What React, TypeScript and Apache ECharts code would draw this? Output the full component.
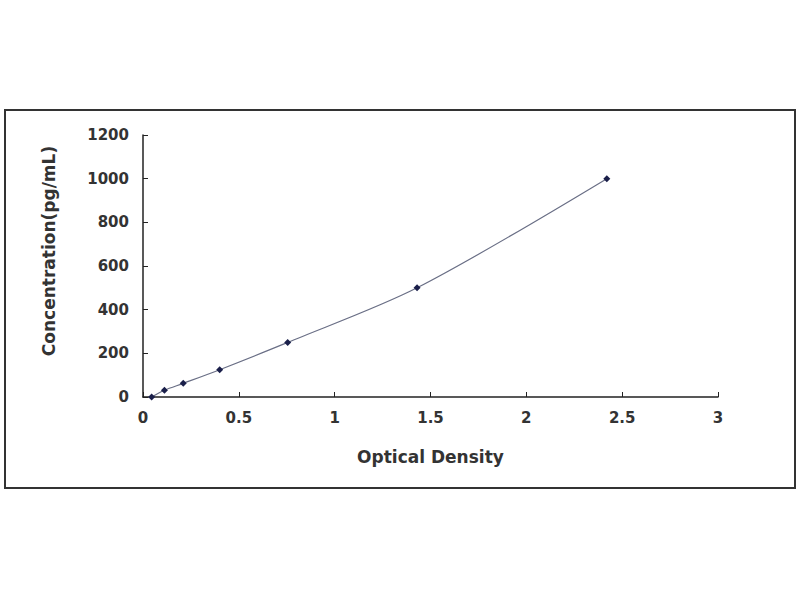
import React, { useEffect, useRef } from "react";
import * as echarts from "echarts";

const odValues = [0.045, 0.112, 0.21, 0.4, 0.755, 1.43, 2.42];
const concValues = [0, 31.25, 62.5, 125, 250, 500, 1000];
const xTitle = "Optical Density";
const yTitle = "Concentration(pg/mL)";

export default function App() {
  const ref = useRef<HTMLDivElement>(null);
  useEffect(() => {
    const chart = echarts.init(ref.current!, null, { renderer: "svg" });
    const pts = odValues.map((x, i) => [x, concValues[i]]);
    const font = "'DejaVu Sans', sans-serif";
    chart.setOption({
      animation: false,
      backgroundColor: "#ffffff",
      graphic: [
        {
          type: "rect",
          shape: { x: 5, y: 110, width: 790, height: 378 },
          style: { fill: "none", stroke: "#333", lineWidth: 2 },
          silent: true,
        },
      ],
      grid: { left: 143, right: 82, top: 135, bottom: 203 },
      xAxis: {
        type: "value",
        min: 0,
        max: 3,
        interval: 0.5,
        name: xTitle,
        nameLocation: "middle",
        nameGap: 51,
        nameTextStyle: { fontFamily: font, fontWeight: "bold", fontSize: 17, color: "#333" },
        splitLine: { show: false },
        axisLine: { lineStyle: { color: "#222", width: 1.5 } },
        axisTick: { inside: true, length: 5, lineStyle: { color: "#222" } },
        axisLabel: {
          fontFamily: font,
          fontWeight: "bold",
          fontSize: 15,
          color: "#333",
          margin: 13,
          formatter: (v: number) => String(v),
        },
      },
      yAxis: {
        type: "value",
        min: 0,
        max: 1200,
        interval: 200,
        name: yTitle,
        nameLocation: "middle",
        nameGap: 86,
        nameTextStyle: {
          fontFamily: font,
          fontWeight: "bold",
          fontSize: 17,
          color: "#333",
          padding: [0, 0, 0, 30],
        },
        splitLine: { show: false },
        axisLine: { show: true, lineStyle: { color: "#222", width: 1.5 } },
        axisTick: { show: true, inside: true, length: 5, lineStyle: { color: "#222" } },
        axisLabel: {
          fontFamily: font,
          fontWeight: "bold",
          fontSize: 15,
          color: "#333",
          margin: 14,
          formatter: (v: number) => String(v),
        },
      },
      series: [
        {
          type: "line",
          data: pts,
          smooth: 0.3,
          symbol: "diamond",
          symbolSize: 7,
          itemStyle: { color: "#1a1f4a" },
          lineStyle: { color: "#6a6f86", width: 1.2 },
        },
      ],
    });
    return () => chart.dispose();
  }, []);
  return (
    <div
      ref={ref}
      style={{ position: "fixed", left: 0, top: 0, width: 800, height: 600, background: "#fff" }}
    />
  );
}
